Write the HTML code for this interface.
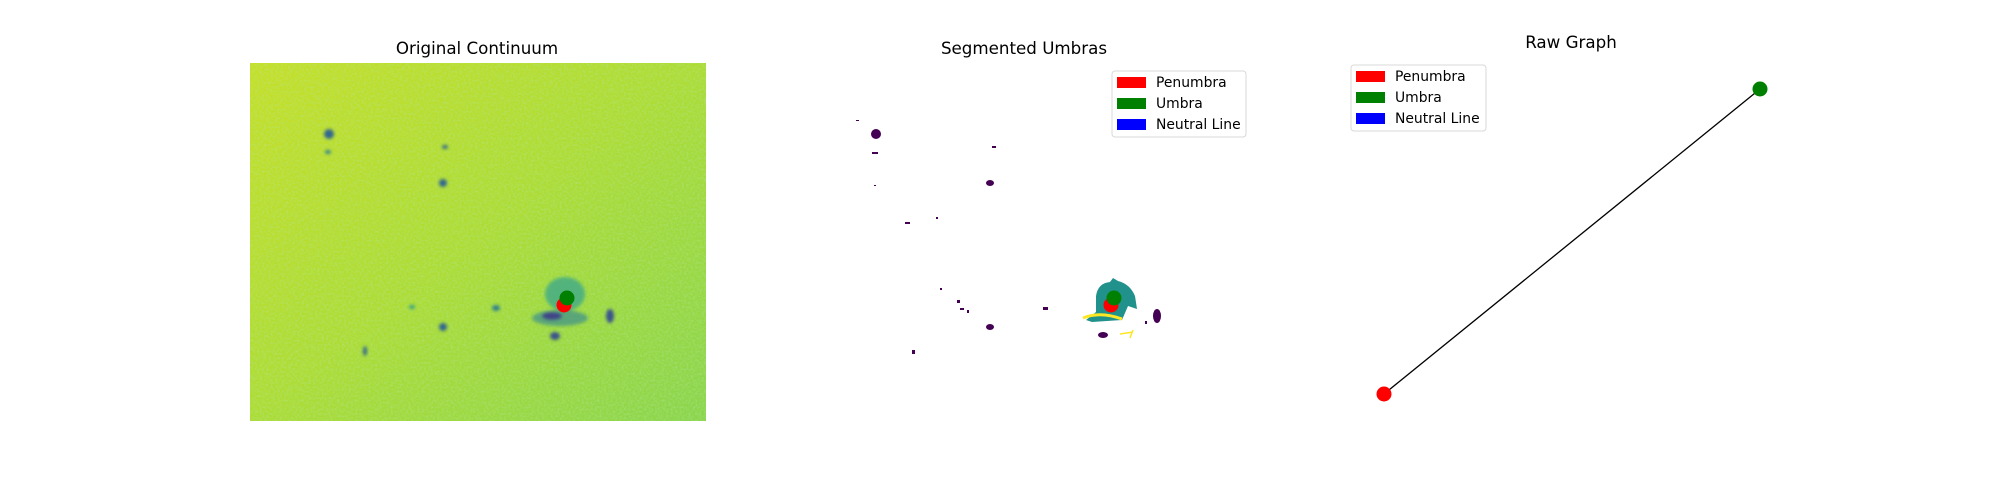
<!DOCTYPE html>
<html><head><meta charset="utf-8"><style>
body{margin:0;background:#fff;}
svg{display:block;font-family:"DejaVu Sans","Liberation Sans",sans-serif;}
</style></head><body>
<svg id="fig" width="2000" height="480" viewBox="0 0 2000 480">
<defs>
<linearGradient id="bg" x1="0" y1="0" x2="1" y2="1">
<stop offset="0" stop-color="#c6df27"/><stop offset="0.5" stop-color="#addc34"/><stop offset="1" stop-color="#8ad54c"/>
</linearGradient>
<filter id="noise" x="0" y="0" width="100%" height="100%">
<feTurbulence type="fractalNoise" baseFrequency="0.45" numOctaves="2" seed="3"/>
<feColorMatrix type="matrix" values="0 0 0 0 0.45  0 0 0 0 0.8  0 0 0 0 0.35  0 0 0 1.4 -0.5"/>
</filter>
<filter id="blur1"><feGaussianBlur stdDeviation="1.5"/></filter>
</defs>
<text x="477" y="54" font-size="16.7" text-anchor="middle">Original Continuum</text>
<g>
<rect x="250" y="63" width="456" height="358" fill="url(#bg)"/>
<rect x="250" y="63" width="456" height="358" filter="url(#noise)" opacity="0.6"/>
<g filter="url(#blur1)">
<ellipse cx="565" cy="294" rx="20" ry="17" fill="#3fa98a" opacity="0.8"/>
<ellipse cx="560" cy="318" rx="28" ry="8" fill="#3c8f8c" opacity="0.7"/>
<ellipse cx="552" cy="316" rx="10" ry="4" fill="#414487"/>
<ellipse cx="610" cy="316" rx="4" ry="7" fill="#3b528b"/>
<ellipse cx="555" cy="336" rx="5" ry="4" fill="#3b528b"/>
<ellipse cx="329" cy="134" rx="5" ry="5" fill="#31668e"/>
<ellipse cx="328" cy="152" rx="3" ry="2" fill="#2f7f8e"/>
<ellipse cx="445" cy="147" rx="3" ry="2" fill="#31668e"/>
<ellipse cx="443" cy="183" rx="4" ry="4" fill="#31668e"/>
<ellipse cx="443" cy="327" rx="4" ry="4" fill="#31668e"/>
<ellipse cx="365" cy="351" rx="2" ry="5" fill="#31668e"/>
<ellipse cx="496" cy="308" rx="4" ry="3" fill="#2f7f8e"/>
<ellipse cx="412" cy="307" rx="3" ry="2" fill="#2f9e8a"/>
</g>
</g>
<g id="markers1"></g>

<text x="1024" y="54" font-size="16.7" text-anchor="middle">Segmented Umbras</text>
<g>
<path d="M1096,296 Q1098,283 1110,282 L1113,278 L1118,281 Q1130,284 1135,296 L1137,309 L1128,306 L1122,320 L1092,322 L1086,320 L1096,312 Z" fill="#21918c"/>
<path d="M1083,318 Q1100,311 1122,319" stroke="#fde725" stroke-width="3" fill="none"/>
<path d="M1120,334 L1133,332 M1133,330 L1130,338" stroke="#fde725" stroke-width="1.5" fill="none"/>
<g fill="#440154">
<ellipse cx="876" cy="134" rx="5" ry="5"/><rect x="872" y="152" width="6" height="2"/>
<ellipse cx="990" cy="183" rx="4" ry="3"/><rect x="992" y="146" width="4" height="2"/>
<rect x="905" y="222" width="5" height="2"/><ellipse cx="990" cy="327" rx="4" ry="3"/>
<ellipse cx="1157" cy="316" rx="4" ry="7"/><ellipse cx="1103" cy="335" rx="5" ry="3"/>
<rect x="1043" y="307" width="5" height="3"/><rect x="912" y="350" width="3" height="4"/>
<rect x="957" y="300" width="3" height="3"/><rect x="960" y="308" width="4" height="2"/>
<rect x="856" y="120" width="3" height="1"/><rect x="874" y="185" width="2" height="1"/>
<rect x="936" y="217" width="2" height="2"/><rect x="940" y="288" width="2" height="2"/>
<rect x="967" y="310" width="2" height="3"/><rect x="1145" y="321" width="2" height="3"/>
</g>
</g>
<g id="markers2"></g>
<g>
<rect x="1112" y="71" width="134" height="66" rx="3" fill="#fff" stroke="#d8d8d8"/>
<rect x="1117" y="77" width="29" height="11" fill="#ff0000"/>
<rect x="1117" y="98" width="29" height="11" fill="#008000"/>
<rect x="1117" y="119" width="29" height="11" fill="#0000ff"/>
<text x="1156" y="87" font-size="13.9">Penumbra</text>
<text x="1156" y="108" font-size="13.9">Umbra</text>
<text x="1156" y="129" font-size="13.9">Neutral Line</text>
</g>

<text x="1571" y="48" font-size="16.7" text-anchor="middle">Raw Graph</text>
<g>
<rect x="1351" y="65" width="135" height="66" rx="3" fill="#fff" stroke="#d8d8d8"/>
<rect x="1356" y="71" width="29" height="11" fill="#ff0000"/>
<rect x="1356" y="92" width="29" height="11" fill="#008000"/>
<rect x="1356" y="113" width="29" height="11" fill="#0000ff"/>
<text x="1395" y="81" font-size="13.9">Penumbra</text>
<text x="1395" y="102" font-size="13.9">Umbra</text>
<text x="1395" y="123" font-size="13.9">Neutral Line</text>
</g>
<g id="graph"></g>
</svg>
<script>
// centroid markers (pixel-image coords of the two regions)
const nodeNames = ["penumbra", "umbra"];
const nodeColors = ["#ff0000", "#008000"];
const nodeX = [564, 567];
const nodeY = [305, 298];
// raw graph layout values (unit coords)
const graphX = [0, 1];
const graphY = [0, 1];
const edges = [[0, 1]];

const NS = "http://www.w3.org/2000/svg";
function mk(tag, attrs, parent){const e=document.createElementNS(NS,tag);for(const k in attrs)e.setAttribute(k,attrs[k]);parent.appendChild(e);return e;}
const m1 = document.getElementById("markers1"), m2 = document.getElementById("markers2");
nodeNames.forEach((n,i)=>{
  const c = mk("circle",{cx:nodeX[i],cy:nodeY[i],r:7.5,fill:nodeColors[i]},m1);
  
  
  const c2 = mk("circle",{cx:nodeX[i]+547,cy:nodeY[i],r:7.5,fill:nodeColors[i]},m2);
  
  
});
const gx = v => 1384 + v * (1760 - 1384);
const gy = v => 394 - v * (394 - 89);
const g = document.getElementById("graph");
edges.forEach(([a,b])=>{
  const l = mk("line",{x1:gx(graphX[a]),y1:gy(graphY[a]),x2:gx(graphX[b]),y2:gy(graphY[b]),stroke:"#000","stroke-width":1.3},g);
  
  
});
nodeNames.forEach((n,i)=>{
  const c = mk("circle",{cx:gx(graphX[i]),cy:gy(graphY[i]),r:7.5,fill:nodeColors[i]},g);
  
  
});
</script>
</body></html>
